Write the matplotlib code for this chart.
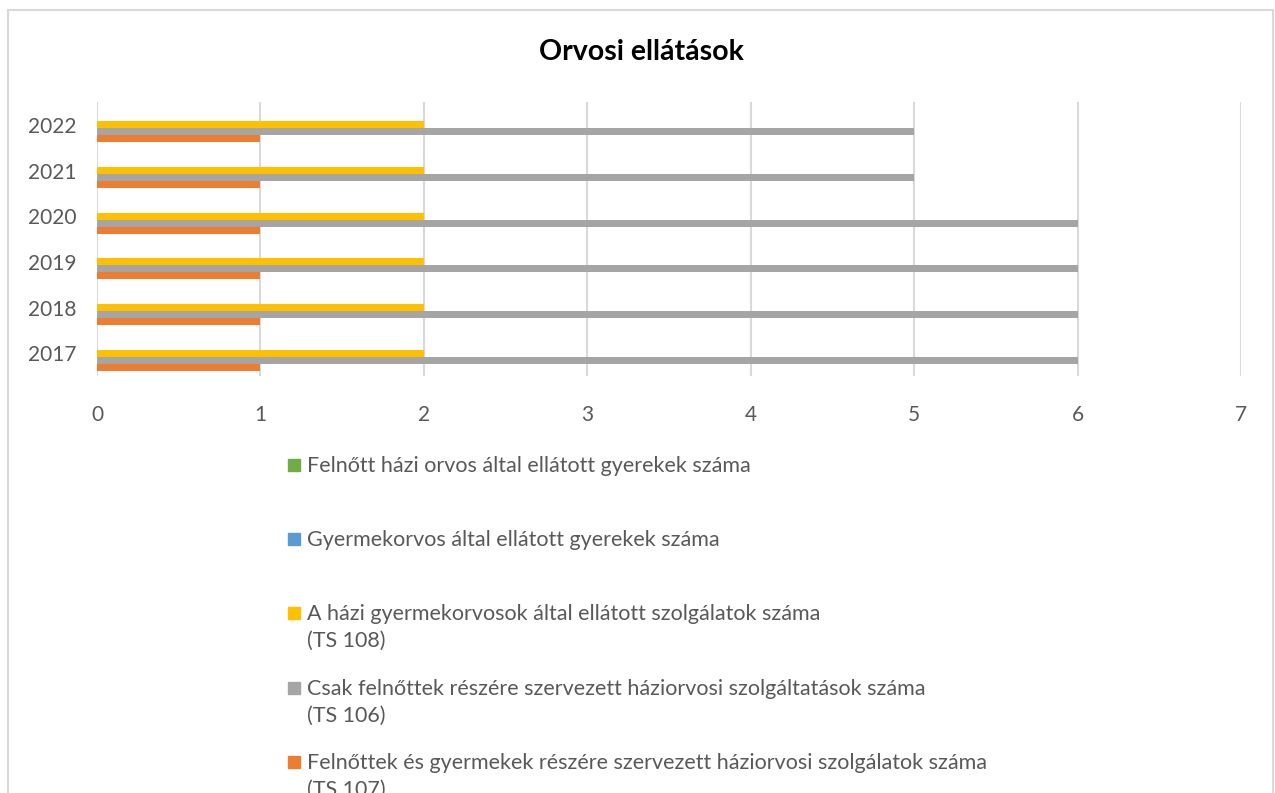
import matplotlib
matplotlib.use('Agg')
import numpy as np
import matplotlib.pyplot as plt
from matplotlib.patches import Rectangle

plt.rcParams['font.family'] = ['Lato', 'DejaVu Sans']

# ── Data ──
years = ['2017', '2018', '2019', '2020', '2021', '2022']
ts107 = [1, 1, 1, 1, 1, 1]   # orange
ts106 = [6, 6, 6, 6, 5, 5]   # gray
ts108 = [2, 2, 2, 2, 2, 2]   # yellow
gyermekorvos = [0, 0, 0, 0, 0, 0]   # blue
felnott_orvos = [0, 0, 0, 0, 0, 0]  # green

# bottom-to-top order inside each year group
series = [ts107, ts106, ts108, gyermekorvos, felnott_orvos]
colors = ['#ED7D31', '#A5A5A5', '#FFC000', '#5B9BD5', '#70AD47']
labels = [
    'Felnőttek és gyermekek részére szervezett háziorvosi szolgálatok száma\n(TS 107)',
    'Csak felnőttek részére szervezett háziorvosi szolgáltatások száma\n(TS 106)',
    'A házi gyermekorvosok által ellátott szolgálatok száma\n(TS 108)',
    'Gyermekorvos által ellátott gyerekek száma',
    'Felnőtt házi orvos által ellátott gyerekek száma',
]

W, H = 1275, 793
fig = plt.figure(figsize=(W / 100, H / 100), dpi=100)
ax = fig.add_axes([97 / W, 1 - 376 / H, (1241 - 97) / W, (376 - 102) / H])

y = np.arange(len(years))
h = 0.153
for i, (vals, c) in enumerate(zip(series, colors)):
    ax.barh(y + (i - 2) * h, vals, height=h, color=c, zorder=3)

ax.set_xlim(0, 7)
ax.set_ylim(-0.5, len(years) - 0.5)
ax.set_xticks(range(8))
ax.set_yticks(y)
ax.set_yticklabels(years)
ax.grid(axis='x', color='#d9d9d9', linewidth=1.5, zorder=0)
for s in ax.spines.values():
    s.set_visible(False)
ax.tick_params(axis='both', length=0, labelsize=15, labelcolor='#595959')
ax.tick_params(axis='y', pad=15)
ax.tick_params(axis='x', pad=21)

fig.text(641 / W, 1 - 52 / H, 'Orvosi ellátások', ha='center', va='center',
         fontsize=20.5, fontweight='bold', color='#000000')

# legend (top entry first, like the reference)
entry_y = [465, 539, 613, 688, 762]
for k, idx in enumerate(range(len(series) - 1, -1, -1)):
    yc = entry_y[k]
    fig.patches.append(Rectangle((288 / W, 1 - (yc + 6) / H), 12 / W, 12 / H,
                                 transform=fig.transFigure, color=colors[idx]))
    for j, line in enumerate(labels[idx].split('\n')):
        fig.text(307 / W, 1 - (yc + 7 + j * 27) / H, line, ha='left',
                 va='baseline', fontsize=15.5, color='#595959')

fig.patches.append(Rectangle((8 / W, -0.1), (1273 - 8) / W, 1.1 - 10 / H,
                             transform=fig.transFigure, fill=False,
                             edgecolor='#d9d9d9', linewidth=1.5))

fig.savefig('out.png', dpi=100, facecolor='white')
